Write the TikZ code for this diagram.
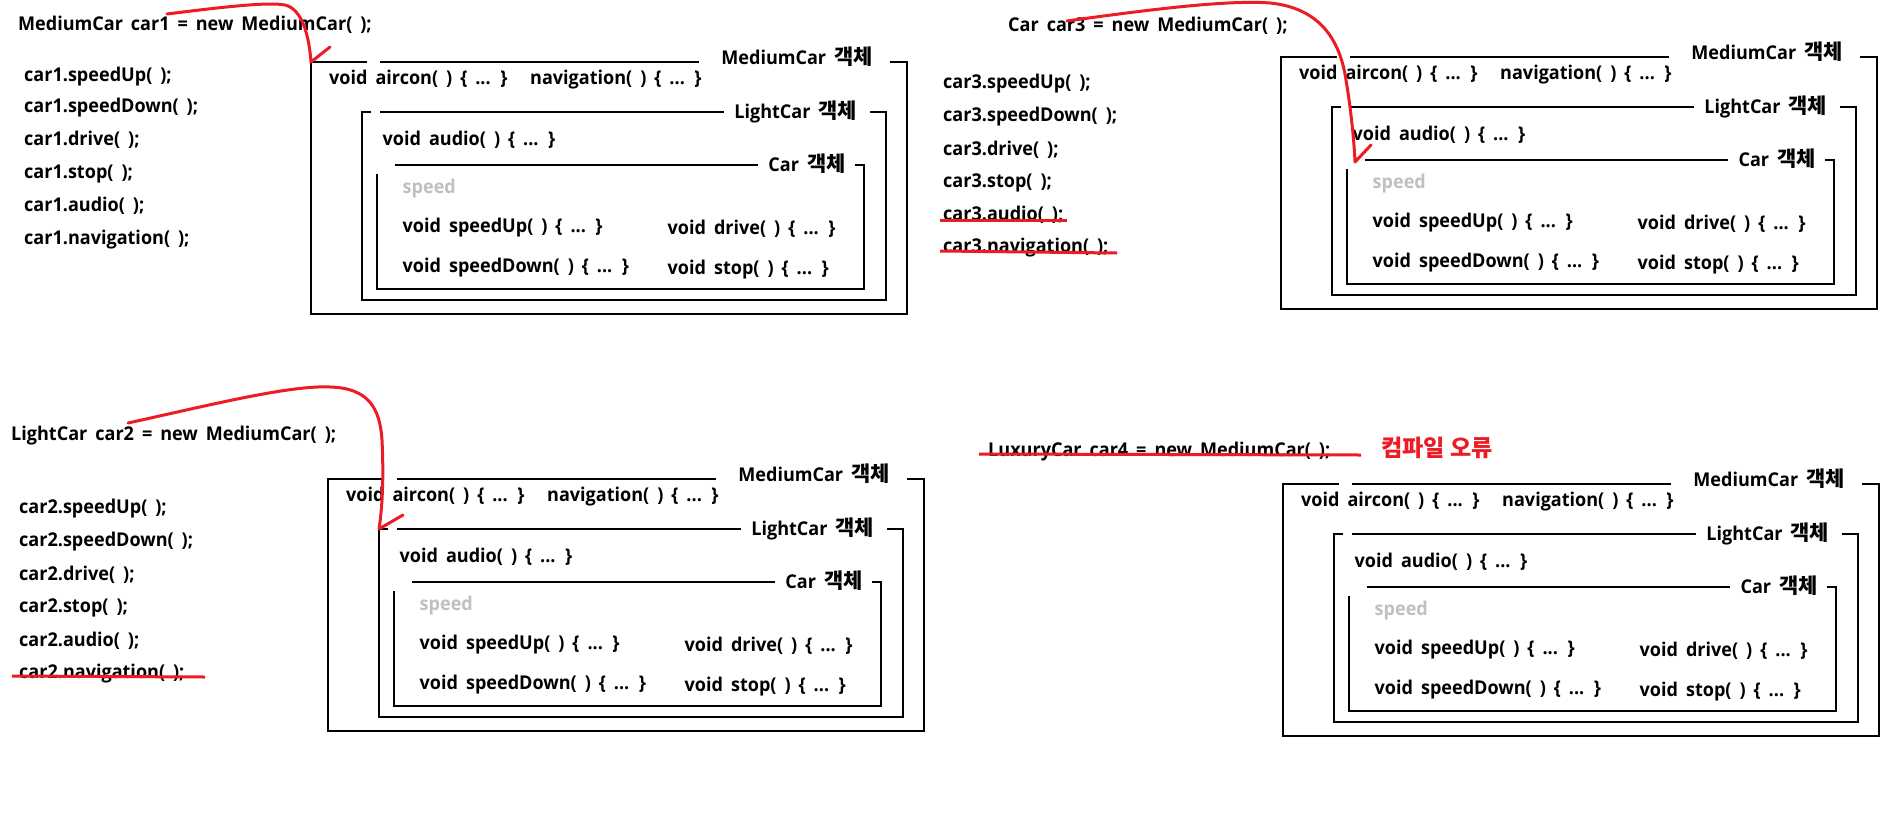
\documentclass[tikz,border=0pt]{standalone}
\usepackage{fontspec}
\setmainfont{Open Sans}[FakeStretch=0.95, WordSpace=1.7]
\newfontfamily\kr{Noto Sans CJK KR}[Scale=1.1]
\definecolor{pen}{RGB}{237,28,36}
\definecolor{speedgray}{RGB}{192,192,192}
\newcommand\codefont{\fontsize{19}{22}\selectfont\bfseries}
\tikzset{
  code/.style={anchor=mid west, inner sep=0pt, font=\codefont},
  graycode/.style={code, text=speedgray},
  lbl/.style={anchor=base, inner sep=0pt, font=\codefont},
  boxline/.style={line width=1.3pt, draw=black},
  redline/.style={line width=3pt, draw=pen, line cap=round, line join=round},
}
\newcommand\objpanel[3]{%
\begin{scope}[shift={(#1,#2)}]
  % MediumCar object
  \draw[boxline] (56,0) -- (0,0) -- (0,252) -- (596,252) -- (596,0) -- (579,0) (69,0) -- (388,0);
  \node[lbl] (#3mlab) at (486,2) {MediumCar {\kr 객체}};
  \coordinate (#3mcorner) at (0,0);
  \node[code] (#3air) at (18,19.5) {void aircon( ) \{ ... \}};
  \node[code] (#3nav) at (219,19.5) {navigation( ) \{ ... \}};
  % LightCar object
  \draw[boxline] (60,50) -- (51,50) -- (51,238) -- (575,238) -- (575,50) -- (559,50) (69,50) -- (413,50);
  \node[lbl] (#3llab) at (484.7,56.3) {LightCar {\kr 객체}};
  \coordinate (#3lcorner) at (51,50);
  \node[code] (#3aud) at (71.5,81) {void audio( ) \{ ... \}};
  % Car object
  \draw[boxline] (66,112) -- (66,227) -- (553,227) -- (553,103) -- (544,103) (84,103) -- (447,103);
  \node[lbl] (#3clab) at (496,109.7) {Car {\kr 객체}};
  \coordinate (#3ccorner) at (74,105);
  \node[graycode] (#3spd) at (91.5,128.5) {speed};
  \node[code] (#3up) at (91.5,168) {void speedUp( ) \{ ... \}};
  \node[code] (#3drv) at (356.5,170.3) {void drive( ) \{ ... \}};
  \node[code] (#3down) at (91.5,208) {void speedDown( ) \{ ... \}};
  \node[code] (#3stp) at (356.5,210.3) {void stop( ) \{ ... \}};
\end{scope}}
\begin{document}
\begin{tikzpicture}[x=1pt,y=-1pt]
\path[use as bounding box, fill=white] (0,0) rectangle (1887,825);

% ---------- panel 1 ----------
\node[code] (t1) at (18,28) {MediumCar car1 = new MediumCar( );};
\node[code] (a1) at (24,78.5) {car1.speedUp( );};
\node[code] (a2) at (24,109.5) {car1.speedDown( );};
\node[code] (a3) at (24,143) {car1.drive( );};
\node[code] (a4) at (24,176) {car1.stop( );};
\node[code] (a5) at (24,209) {car1.audio( );};
\node[code] (a6) at (24,241.5) {car1.navigation( );};
\objpanel{311}{62}{p1}
\coordinate (s1) at (167,14);
\coordinate (k1) at (330,47);
\draw[redline] (s1) .. controls (230,6) and (270,2) .. (285,5) .. controls (302,9) and (309,35) .. (p1mcorner) -- (k1);

% ---------- panel 2 ----------
\node[code] (t2) at (1008,29) {Car car3 = new MediumCar( );};
\node[code] (b1) at (943,86) {car3.speedUp( );};
\node[code] (b2) at (943,119) {car3.speedDown( );};
\node[code] (b3) at (943,153) {car3.drive( );};
\node[code] (b4) at (943,185) {car3.stop( );};
\node[code] (b5) at (943,218) {car3.audio( );};
\node[code] (b6) at (943,250) {car3.navigation( );};
\objpanel{1281}{57}{p2}
\coordinate (s2) at (1067,21);
\coordinate (k2) at (1371,145);
\draw[redline] (s2) .. controls (1160,8) and (1230,0) .. (1270,3) .. controls (1320,8) and (1340,40) .. (1346,80) .. controls (1351,110) and (1354,140) .. (p2ccorner) -- (k2);
\coordinate (x1a) at (940,220);
\coordinate (x1b) at (1067,220);
\coordinate (x2a) at (940,251);
\coordinate (x2b) at (1117,253);
\draw[redline, line cap=butt] (x1a) -- (x1b);
\draw[redline, line cap=butt] (x2a) -- (x2b);

% ---------- panel 3 ----------
\node[code] (t3) at (11,438) {LightCar car2 = new MediumCar( );};
\node[code] (c1) at (19,511) {car2.speedUp( );};
\node[code] (c2) at (19,544) {car2.speedDown( );};
\node[code] (c3) at (19,578) {car2.drive( );};
\node[code] (c4) at (19,610) {car2.stop( );};
\node[code] (c5) at (19,644) {car2.audio( );};
\node[code] (c6) at (19,676) {car2.navigation( );};
\objpanel{328}{479}{p3}
\coordinate (s3) at (128,423);
\coordinate (k3) at (403,515);
\draw[redline] (s3) .. controls (210,405) and (290,385) .. (330,387) .. controls (370,388) and (380,410) .. (382,440) .. controls (384,480) and (382,510) .. (p3lcorner) -- (k3);
\coordinate (x3a) at (12,676);
\coordinate (x3b) at (205,677);
\draw[redline, line cap=butt] (x3a) -- (x3b);

% ---------- panel 4 ----------
\node[code] (t4) at (988,454) {LuxuryCar car4 = new MediumCar( );};
\node[code, text=pen, font=\fontsize{21}{24}\selectfont\bfseries] (err) at (1381,454) {\kr 컴파일 오류};
\objpanel{1283}{484}{p4}
\coordinate (x4a) at (979,454);
\coordinate (x4b) at (1361,455);
\draw[redline, line cap=butt] (x4a) -- (x4b);
\end{tikzpicture}
\end{document}
